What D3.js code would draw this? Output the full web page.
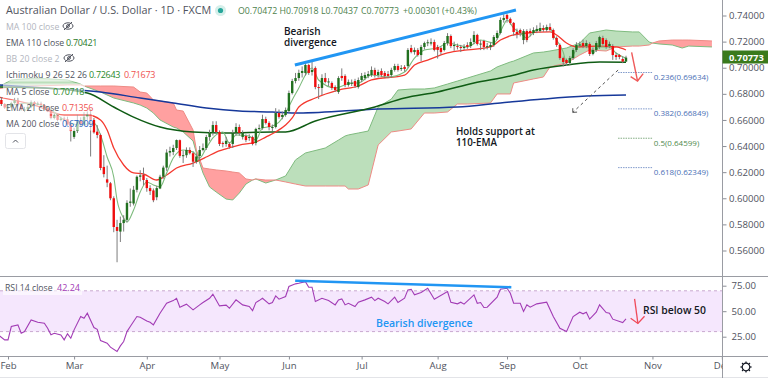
<!DOCTYPE html>
<html>
<head>
<meta charset="utf-8">
<script src="https://cdn.jsdelivr.net/npm/d3@7"></script>
<style>
	html, body { margin: 0; padding: 0; background: #fff; overflow: hidden; }
	svg { display: block; font-family: "Open Sans", sans-serif; }
	.axis text { fill: #50535e; font-size: 9.6px; font-family: "Open Sans", sans-serif; }
</style>
</head>
<body>
<div id="chart"></div>
<script>
// candles, first one is two sessions before the Feb tick
const firstDay = -2;
const candleOpen = [
	.6753,.6722,.6690,.6700,.6730,.6750,.6720,.6680,.6680,.6700,
	.6735,.6720,.6725,.6715,.6690,.6675,.6615,.6635,.6600,.6610,
	.6605,.6565,.6470,.6515,.6595,.6570,.6625,.6640,.6600,.6510,
	.6485,.6240,.6145,.6115,.6000,.5780,.5745,.5810,.5835,.5965,
	.5960,.6065,.6165,.6180,.6140,.6078,.6060,.6008,.6075,.6165,
	.6235,.6350,.6355,.6385,.6445,.6325,.6330,.6370,.6345,.6280,
	.6324,.6370,.6385,.6469,.6500,.6561,.6508,.6423,.6416,.6416,
	.6416,.6500,.6546,.6469,.6477,.6462,.6469,.6423,.6531,.6538,
	.6607,.6577,.6538,.6546,.6653,.6623,.6638,.6668,.6806,.6898,
	.6921,.6960,.6960,.7021,.6967,.6998,.6852,.6845,.6921,.6891,
	.6883,.6852,.6814,.6937,.6937,.6868,.6883,.6898,.6852,.6906,
	.6921,.6937,.6944,.6983,.6944,.6975,.6960,.6952,.6944,.6983,
	.7013,.6990,.7006,.7013,.7151,.7120,.7136,.7097,.7159,.7189,
	.7185,.7197,.7159,.7151,.7136,.7189,.7243,.7166,.7166,.7159,
	.7155,.7174,.7166,.7197,.7251,.7182,.7205,.7159,.7159,.7174,
	.7228,.7266,.7366,.7404,.7374,.7343,.7274,.7289,.7212,.7281,
	.7281,.7266,.7281,.7281,.7304,.7289,.7312,.7289,.7228,.7174,
	.7074,.7059,.7036,.7074,.7136,.7174,.7189,.7166,.7182,.7105,
	.7136,.7159,.7228,.7212,.7166,.7166,.7097,.7097,.7067,.70472
];
const candleHigh = [
	.6776,.6730,.6710,.6740,.6770,.6770,.6730,.6700,.6715,.6750,
	.6745,.6740,.6740,.6720,.6700,.6690,.6650,.6640,.6625,.6625,
	.6625,.6590,.6540,.6640,.6620,.6660,.6665,.6685,.6615,.6560,
	.6495,.6330,.6250,.6125,.6015,.5835,.5860,.5870,.5985,.6075,
	.6095,.6175,.6215,.6235,.6155,.6100,.6075,.6095,.6180,.6250,
	.6375,.6395,.6410,.6450,.6450,.6365,.6390,.6390,.6360,.6340,
	.6400,.6420,.6485,.6525,.6590,.6590,.6520,.6435,.6470,.6430,
	.6525,.6575,.6565,.6520,.6490,.6490,.6480,.6540,.6565,.6640,
	.6625,.6590,.6565,.6690,.6680,.6665,.6695,.6825,.6915,.6960,
	.6985,.7010,.7050,.7030,.7060,.7010,.6875,.6950,.6960,.6920,
	.6895,.6865,.6935,.6995,.6950,.6910,.6910,.6915,.6925,.6960,
	.6965,.6975,.7010,.7000,.6985,.6995,.6975,.6975,.7000,.7030,
	.7030,.7020,.7020,.7150,.7175,.7155,.7150,.7175,.7200,.7215,
	.7225,.7215,.7175,.7165,.7205,.7265,.7255,.7200,.7185,.7175,
	.7180,.7195,.7225,.7280,.7260,.7210,.7215,.7190,.7195,.7250,
	.7285,.7385,.7410,.7414,.7385,.7350,.7300,.7300,.7295,.7295,
	.7300,.7310,.7325,.7345,.7325,.7330,.7340,.7300,.7240,.7185,
	.7085,.7070,.7090,.7150,.7195,.7200,.7215,.7210,.7195,.7155,
	.7205,.7245,.7245,.7225,.7200,.7180,.7115,.7105,.7085,.70918
];
const candleLow = [
	.6707,.6685,.6680,.6690,.6720,.6705,.6670,.6660,.6670,.6690,
	.6705,.6710,.6700,.6685,.6660,.6605,.6605,.6590,.6590,.6595,
	.6555,.6435,.6455,.6500,.6555,.6560,.6600,.6320,.6495,.6460,
	.6215,.6160,.6085,.5985,.5740,.5510,.5665,.5745,.5815,.5935,
	.5945,.6045,.6130,.6100,.6050,.6025,.5970,.5985,.6070,.6150,
	.6210,.6320,.6330,.6370,.6310,.6270,.6310,.6335,.6240,.6265,
	.6290,.6360,.6370,.6440,.6480,.6495,.6400,.6390,.6395,.6380,
	.6385,.6480,.6480,.6450,.6430,.6440,.6405,.6405,.6520,.6525,
	.6565,.6520,.6515,.6535,.6610,.6605,.6625,.6655,.6795,.6880,
	.6900,.6925,.6940,.6945,.6940,.6835,.6760,.6790,.6880,.6860,
	.6830,.6815,.6800,.6900,.6850,.6855,.6860,.6845,.6840,.6890,
	.6905,.6920,.6930,.6925,.6925,.6930,.6920,.6920,.6925,.6970,
	.6970,.6975,.6970,.7000,.7110,.7100,.7085,.7050,.7140,.7165,
	.7170,.7125,.7070,.7100,.7125,.7170,.7150,.7130,.7140,.7120,
	.7135,.7145,.7150,.7180,.7170,.7135,.7135,.7140,.7135,.7160,
	.7215,.7255,.7345,.7345,.7330,.7245,.7225,.7240,.7180,.7195,
	.7240,.7250,.7265,.7270,.7275,.7275,.7280,.7215,.7160,.7060,
	.7010,.7015,.7020,.7060,.7120,.7155,.7150,.7150,.7090,.7095,
	.7120,.7145,.7170,.7145,.7150,.7060,.7060,.7065,.7035,.70437
];
const candleClose = [
	.6722,.6695,.6700,.6730,.6750,.6720,.6680,.6680,.6700,.6735,
	.6720,.6725,.6715,.6690,.6665,.6615,.6635,.6600,.6610,.6605,
	.6565,.6515,.6515,.6595,.6570,.6625,.6640,.6600,.6505,.6485,
	.6232,.6185,.6120,.6000,.5780,.5750,.5810,.5835,.5965,.5975,
	.6065,.6165,.6175,.6140,.6078,.6055,.5985,.6078,.6165,.6235,
	.6350,.6362,.6385,.6446,.6325,.6330,.6370,.6345,.6280,.6320,
	.6370,.6385,.6469,.6500,.6561,.6508,.6416,.6416,.6440,.6393,
	.6500,.6546,.6500,.6500,.6446,.6469,.6416,.6531,.6538,.6607,
	.6577,.6546,.6546,.6653,.6623,.6638,.6676,.6806,.6898,.6921,
	.6960,.6975,.7021,.6960,.6983,.6852,.6845,.6921,.6891,.6895,
	.6845,.6829,.6921,.6921,.6868,.6891,.6885,.6860,.6906,.6937,
	.6944,.6952,.6983,.6944,.6967,.6944,.6937,.6937,.6983,.7013,
	.6983,.6998,.6990,.7136,.7120,.7136,.7097,.7159,.7189,.7195,
	.7195,.7136,.7136,.7120,.7189,.7243,.7166,.7174,.7159,.7151,
	.7159,.7159,.7197,.7251,.7182,.7185,.7159,.7165,.7174,.7235,
	.7266,.7366,.7381,.7374,.7343,.7274,.7258,.7266,.7281,.7212,
	.7266,.7289,.7297,.7304,.7289,.7312,.7289,.7228,.7174,.7074,
	.7044,.7036,.7074,.7136,.7174,.7178,.7166,.7189,.7105,.7136,
	.7189,.7235,.7182,.7159,.7182,.7097,.7082,.7082,.7047,.70773
];

const ma5Day = [-1,1,7,13,17,22,26,28,30,32,33,35,36,38,40,42,44,46,48,50,53,56,58,60,62,65,67,69,73,75,77,80,82,84,86,88,90,92,94,99,104,106,110,115,120,123,126,130,133,136,139,143,147,150,151,153,155,157,160,164,165,168,169,171,173,176,177,179,182,184,187];
const ma5Value = [.6707,.6714,.6730,.6676,.6600,.6561,.6577,.6485,.6316,.6163,.5987,.5849,.5818,.5910,.6048,.6125,.6102,.6086,.6194,.6309,.6370,.6354,.6309,.6385,.6462,.6508,.6423,.6485,.6477,.6446,.6538,.6553,.6584,.6653,.6753,.6845,.6944,.6998,.6906,.6845,.6883,.6883,.6944,.6929,.6967,.7074,.7136,.7151,.7189,.7174,.7159,.7212,.7189,.7327,.7366,.7304,.7266,.7228,.7289,.7304,.7251,.7120,.7036,.7097,.7174,.7151,.7113,.7159,.7159,.7113,.70718];
const ema21Day = [-3,8,17,24,28,30,32,35,38,41,45,48,51,56,60,63,68,70,75,78,81,84,86,88,93,100,106,110,120,123,127,133,139,146,149,151,153,157,164,166,169,172,178,184,187];
const ema21Value = [.6776,.6714,.6638,.6638,.6600,.6523,.6385,.6255,.6194,.6186,.6140,.6178,.6232,.6270,.6316,.6354,.6393,.6408,.6431,.6469,.6508,.6561,.6615,.6699,.6768,.6829,.6860,.6906,.6944,.7021,.7059,.7113,.7136,.7159,.7212,.7235,.7251,.7266,.7274,.7251,.7189,.7159,.7166,.7159,.71356];
const ema110Day = [-3,11,24,32,38,46,56,66,80,84,93,111,120,130,141,152,159,169,179,187];
const ema110Value = [.6852,.6845,.6806,.6699,.6622,.6546,.6508,.6500,.6508,.6508,.6592,.6699,.6768,.6814,.6883,.6937,.6983,.7021,.7044,.70421];
const ma200Day = [-3,11,28,40,50,60,70,80,88,112,136,149,162,175,187];
const ma200Value = [.6868,.6845,.6814,.6768,.6730,.6691,.6668,.6661,.6653,.6684,.6699,.6730,.6760,.6783,.67909];

// ichimoku cloud, same days for both spans
const cloudDay = [-4,1,8,18,22,23,28,32,38,40,42,44,46,50,51,53,56,57,59,61,63,66,68,70,72,74,75,78,81,84,87,90,96,100,102,103,106,109,112,116,118,122,126,129,133,136,139,146,148,152,153,159,162,164,169,173,176,181,184,189,191,194,195,197,201,204,206,213];
const spanA = [.6837,.6906,.6921,.6906,.6875,.6860,.6814,.6768,.6730,.6714,.6691,.6653,.6600,.6546,.6538,.6508,.6439,.6347,.6194,.6086,.6048,.5994,.5987,.6040,.6109,.6140,.6148,.6117,.6140,.6171,.6294,.6347,.6385,.6446,.6477,.6485,.6500,.6515,.6699,.6760,.6829,.6837,.6837,.6845,.6875,.6898,.6921,.6975,.7006,.7044,.7051,.7113,.7120,.7128,.7151,.7189,.7266,.7289,.7281,.7274,.7274,.7197,.7189,.7182,.7174,.7151,.7166,.7159];
const spanB = [.6837,.6852,.6860,.6868,.6868,.6860,.6860,.6860,.6852,.6814,.6806,.6753,.6745,.6730,.6676,.6668,.6523,.6370,.6232,.6224,.6217,.6209,.6201,.6194,.6148,.6140,.6148,.6140,.6140,.6125,.6109,.6094,.6094,.6094,.6094,.6071,.6071,.6102,.6408,.6508,.6515,.6531,.6653,.6653,.6661,.6722,.6722,.6730,.6799,.6799,.6883,.6914,.6929,.7006,.7036,.7097,.7136,.7128,.7159,.7166,.7166,.7174,.7189,.7205,.7212,.7212,.7212,.7205];

// rsi pane
const rsiDay = [-3,-1,0,1,3,4,5,7,9,11,12,13,14,16,17,18,19,20,22,23,24,26,27,28,30,31,33,34,35,36,37,39,40,42,43,44,46,48,50,51,52,54,56,58,59,61,62,64,66,67,69,71,73,74,75,76,77,79,80,81,82,84,85,87,88,90,91,92,93,95,97,99,100,101,102,103,105,106,108,110,111,112,114,115,117,118,120,121,122,123,125,127,129,133,134,136,137,138,141,142,143,144,145,148,149,151,152,153,155,156,157,158,160,163,165,167,169,171,173,174,175,176,178,179,181,182,183,186,187];
const rsiValue = [26.8,21.9,21.9,35,36.6,28.4,30,41.5,39.2,38.2,33.3,26.8,28.4,26.8,21.9,27.8,23.5,31.7,44.8,43.1,48,34,32.3,21.2,18.6,14.7,10.5,16,20.3,30,35,44.8,44.1,40.5,39.2,36.6,48,57.8,60.4,62.7,53.9,56.9,51.3,56.2,58.5,62.7,66.7,55.2,55.9,52.9,61.1,56.2,54.6,50.6,58.5,60.4,62.7,57.2,58.5,65,61.8,64.4,74.2,76.8,77.4,79,73.5,73.5,59.5,62.7,60.4,56.2,61.1,62.1,56.2,57.8,54.6,58.8,61.1,63.7,60.4,62.7,59.5,57.2,63.7,58.5,62.7,70.9,71.5,66,68.3,72.5,61.8,69.3,58.8,57.2,58.8,56.9,66,57.8,58.5,53.6,53.9,63.7,71.5,72.5,67.6,57.8,57.8,49.7,56.2,53.9,57.2,58.8,44.8,33.3,30,44.8,49,47.4,49,42.2,49,56.2,48.7,48,42.2,38.9,42.5];
const rsiBands = [70, 30];

// axes
const priceTicks = [.74,.72,.70,.68,.66,.64,.62,.60,.58,.56];
const rsiTicks = [75,50,25];
const monthLabels = ["Feb","Mar","Apr","May","Jun","Jul","Aug","Sep","Oct","Nov","Dec"];
const monthDays = [0,20,42,64,85,107,130,151,173,195,216];

// fib levels
const fibRatio = ["0.236","0.382","0.5","0.618"];
const fibPrice = [.69634,.66849,.64599,.62349];
const fibColor = ["#4a6fb5","#4a6fb5","#4f8a4f","#4a6fb5"];

// drawn lines on the chart, [day, value] pairs
const priceTrend = [[86.8,.7021],[153.7,.7442]];
const rsiTrend = [[86.9,79.8],[152.3,73.5]];
const priceArrow = [[188.7,.7118],[190.5,.6898]];
const priceArrowHead = [[188.4,.6932],[190.5,.6898],[192.2,.6955]];
const rsiArrow = [[189.6,62],[190.6,38]];
const rsiArrowHead = [[188.4,43],[190.6,38],[192.6,45]];
const fibGuide = [[184.6,.6982],[170.9,.6658]];
const fibGuideHead = [[170.9,.6690],[170.9,.6658],[172.2,.6660]];

const width = 768, height = 378;
const axisX = 722.5;

const x = d3.scaleLinear().domain([0, 187]).range([8, 626]);
const y = d3.scaleLinear().domain([.74, .56]).range([15.5, 250.5]);
const yRsi = d3.scaleLinear().domain([75, 25]).range([285.7, 336.7]);

const svg = d3.select("#chart").append("svg")
	.attr("width", width)
	.attr("height", height);

const defs = svg.append("defs");
defs.append("clipPath").attr("id", "pricePane").append("rect")
	.attr("width", axisX).attr("height", 276);
defs.append("clipPath").attr("id", "rsiPane").append("rect")
	.attr("y", 277).attr("width", axisX).attr("height", 79);
defs.append("clipPath").attr("id", "timePane").append("rect")
	.attr("y", 356).attr("width", axisX).attr("height", 22);

const plot = svg.append("g").attr("clip-path", "url(#pricePane)");

// cloud
const cloud = cloudDay.map((d, i) => ({ day: d, a: spanA[i], b: spanB[i] }));
const upperEdge = d => y(Math.max(d.a, d.b));

plot.append("path").datum(cloud)
	.attr("fill", "#bcdfbb")
	.attr("d", d3.area().x(d => x(d.day)).y0(d => y(d.b)).y1(upperEdge));
plot.append("path").datum(cloud)
	.attr("fill", "#ffa0a0")
	.attr("d", d3.area().x(d => x(d.day)).y0(d => y(d.a)).y1(upperEdge));
plot.append("path").datum(cloud)
	.attr("fill", "none").attr("stroke", "#7fbb7f").attr("stroke-width", 1)
	.attr("d", d3.line().x(d => x(d.day)).y(d => y(d.a)));
plot.append("path").datum(cloud)
	.attr("fill", "none").attr("stroke", "#ee8b85").attr("stroke-width", 1)
	.attr("d", d3.line().x(d => x(d.day)).y(d => y(d.b)));

// moving averages
function drawLine(days, values, color, w) {
	plot.append("path")
		.datum(days.map((d, i) => [d, values[i]]))
		.attr("fill", "none")
		.attr("stroke", color)
		.attr("stroke-width", w)
		.attr("stroke-linejoin", "round")
		.attr("d", d3.line().x(d => x(d[0])).y(d => y(d[1])).curve(d3.curveMonotoneX));
}
drawLine(ma200Day, ma200Value, "#16389a", 1.5);
drawLine(ema110Day, ema110Value, "#0f5c14", 1.5);
drawLine(ema21Day, ema21Value, "#f4392f", 1.3);
drawLine(ma5Day, ma5Value, "#7dbb7d", 1.1);

// candles
const candles = candleOpen.map((o, i) => ({
	day: firstDay + i, o: o, h: candleHigh[i], l: candleLow[i], c: candleClose[i]
}));
const candle = plot.selectAll(".candle").data(candles).enter().append("g").attr("class", "candle");
candle.append("line")
	.attr("x1", d => x(d.day)).attr("x2", d => x(d.day))
	.attr("y1", d => y(d.h)).attr("y2", d => y(d.l))
	.attr("stroke", "#7c7c7c").attr("stroke-width", 1);
candle.append("rect")
	.attr("x", d => x(d.day) - 1.2)
	.attr("width", 2.4)
	.attr("y", d => y(Math.max(d.o, d.c)))
	.attr("height", d => Math.max(1, Math.abs(y(d.o) - y(d.c))))
	.attr("fill", d => d.c >= d.o ? "#21701f" : "#f00d0d");

// fib levels
fibPrice.forEach((p, i) => {
	plot.append("line")
		.attr("x1", x(184.6)).attr("x2", x(194.9))
		.attr("y1", y(p)).attr("y2", y(p))
		.attr("stroke", fibColor[i]).attr("stroke-opacity", .7)
		.attr("stroke-dasharray", "1.5 1");
	plot.append("text")
		.attr("x", x(195.4)).attr("y", y(p) + 7.5)
		.attr("fill", fibColor[i]).attr("font-size", "8px")
		.text(fibRatio[i] + "(" + d3.format(".5f")(p) + ")");
});

const pricePath = d3.line().x(d => x(d[0])).y(d => y(d[1]));
const rsiPath = d3.line().x(d => x(d[0])).y(d => yRsi(d[1]));

plot.append("path").attr("d", pricePath(fibGuide))
	.attr("fill", "none").attr("stroke", "#555").attr("stroke-dasharray", "3 3");
plot.append("path").attr("d", pricePath(fibGuideHead))
	.attr("fill", "none").attr("stroke", "#555");
plot.append("path").attr("d", pricePath(priceTrend))
	.attr("fill", "none").attr("stroke", "#2196f3").attr("stroke-width", 3);
plot.append("path").attr("d", pricePath(priceArrow))
	.attr("fill", "none").attr("stroke", "#ef5a5a").attr("stroke-width", 1.4);
plot.append("path").attr("d", pricePath(priceArrowHead))
	.attr("fill", "none").attr("stroke", "#ef5a5a").attr("stroke-width", 1.4);

// chart notes
function note(parent, lines, nx, ny, color, size) {
	lines.forEach((t, i) => {
		parent.append("text")
			.attr("x", nx).attr("y", ny + i * 11)
			.attr("fill", color).attr("font-size", size + "px").attr("font-weight", 600)
			.text(t);
	});
}
note(svg, ["Bearish", "divergence"], 284, 34.5, "#131722", 10);
note(svg, ["Holds support at", "110-EMA"], 456, 134.5, "#131722", 9.8);

// rsi pane
const rsi = svg.append("g").attr("clip-path", "url(#rsiPane)");
rsi.append("rect")
	.attr("x", 0).attr("width", axisX)
	.attr("y", yRsi(rsiBands[0]))
	.attr("height", yRsi(rsiBands[1]) - yRsi(rsiBands[0]))
	.attr("fill", "#f5e7fd");
rsiBands.forEach(b => {
	rsi.append("line")
		.attr("x1", 0).attr("x2", axisX)
		.attr("y1", yRsi(b)).attr("y2", yRsi(b))
		.attr("stroke", "#c8a8cf").attr("stroke-dasharray", "3 3");
});
rsi.append("path")
	.datum(rsiDay.map((d, i) => [d, rsiValue[i]]))
	.attr("fill", "none").attr("stroke", "#a23cb5").attr("stroke-width", 1.1)
	.attr("d", rsiPath);
rsi.append("path").attr("d", rsiPath(rsiTrend))
	.attr("fill", "none").attr("stroke", "#2196f3").attr("stroke-width", 2.6);
rsi.append("path").attr("d", rsiPath(rsiArrow))
	.attr("fill", "none").attr("stroke", "#ef4a5a").attr("stroke-width", 1.3);
rsi.append("path").attr("d", rsiPath(rsiArrowHead))
	.attr("fill", "none").attr("stroke", "#ef4a5a").attr("stroke-width", 1.3);
note(rsi, ["Bearish divergence"], 376, 327, "#2196f3", 10.5);
note(rsi, ["RSI below 50"], 643, 314, "#131722", 10.4);

// pane borders
[276.5, 356.5].forEach(b => {
	svg.append("line").attr("x1", 0).attr("x2", width).attr("y1", b).attr("y2", b)
		.attr("stroke", "#9a9ca3");
});
svg.append("line").attr("x1", 0).attr("x2", width).attr("y1", 377.5).attr("y2", 377.5)
	.attr("stroke", "#e3e4e8");

// axes
function styleAxis(g) {
	g.attr("class", "axis");
	g.select(".domain").remove();
	g.selectAll("line").attr("stroke", "#8a8d95");
}
svg.append("g")
	.attr("transform", "translate(" + axisX + ",0)")
	.call(d3.axisRight(y).tickValues(priceTicks).tickFormat(d3.format(".5f")).tickSize(4).tickPadding(2.5))
	.call(styleAxis);
svg.append("g")
	.attr("transform", "translate(" + axisX + ",0)")
	.call(d3.axisRight(yRsi).tickValues(rsiTicks).tickFormat(d3.format(".2f")).tickSize(4).tickPadding(5))
	.call(styleAxis);
svg.append("line").attr("x1", axisX).attr("x2", axisX).attr("y1", 0).attr("y2", height)
	.attr("stroke", "#9a9ca3");

svg.append("g").attr("clip-path", "url(#timePane)").append("g")
	.attr("transform", "translate(0,356.5)")
	.call(d3.axisBottom(x).tickValues(monthDays).tickFormat((d, i) => monthLabels[i]).tickSize(3).tickPadding(3))
	.call(styleAxis);

// last price tag
svg.append("rect").attr("x", axisX).attr("y", 50.5).attr("width", width - axisX).attr("height", 13)
	.attr("fill", "#3a7a1c");
svg.append("text").attr("x", 729).attr("y", 60.6).attr("fill", "#fff")
	.attr("font-size", "9.4px").attr("font-weight", 700).text(d3.format(".5f")(candleClose[candleClose.length - 1]));

// gear
const gear = svg.append("g").attr("transform", "translate(746,367)")
	.attr("fill", "none").attr("stroke", "#131722");
gear.append("circle").attr("r", 3.8).attr("stroke-width", 1.2);
d3.range(8).forEach(i => {
	gear.append("line").attr("y1", -3.8).attr("y2", -5.6).attr("stroke-width", 1.2)
		.attr("transform", "rotate(" + i * 45 + ")");
});

// legend
const legendGray = "#50535e", legendMuted = "#b2b5be";
const legend = [
	{ y: 26, label: "MA 100 close", color: legendMuted, hidden: 68 },
	{ y: 42, label: "EMA 110 close", color: legendGray, values: [[66, "0.70421", "#2b7a2b"]], w: 96 },
	{ y: 58, label: "BB 20 close 2", color: legendMuted, hidden: 69 },
	{ y: 74, label: "Ichimoku 9 26 52 26", color: legendGray, values: [[89, "0.72643", "#2b8a2b"], [124, "0.71673", "#ef5350"]], w: 154 },
	{ y: 91, label: "MA 5 close", color: legendGray, values: [[53, "0.70718", "#2b8a2b"]], w: 82 },
	{ y: 107, label: "EMA 21 close", color: legendGray, values: [[62, "0.71356", "#ef5350"]], w: 90 },
	{ y: 123, label: "MA 200 close", color: legendGray, values: [[62, "0.67909", "#1e5bc0"]], w: 90 }
];
legend.forEach(row => {
	if (row.w) {
		svg.append("rect").attr("x", 3).attr("y", row.y - 7.5).attr("width", row.w).attr("height", 15)
			.attr("fill", "#fff").attr("opacity", .6);
	}
	svg.append("text").attr("x", 6).attr("y", row.y + 3.5).attr("fill", row.color)
		.attr("font-size", "8.7px").text(row.label);
	(row.values || []).forEach(v => {
		svg.append("text").attr("x", v[0]).attr("y", row.y + 3.5).attr("fill", v[2])
			.attr("font-size", "9px").attr("letter-spacing", "-0.3px").text(v[1]);
	});
	if (row.hidden) {
		const eye = svg.append("g").attr("transform", "translate(" + row.hidden + "," + row.y + ")")
			.attr("fill", "none").attr("stroke", "#50535e").attr("stroke-width", 1);
		eye.append("ellipse").attr("rx", 5).attr("ry", 3.2);
		eye.append("circle").attr("r", 1.4);
		eye.append("line").attr("x1", -4).attr("y1", 4).attr("x2", 4).attr("y2", -4);
	}
});

// collapse button
svg.append("rect").attr("x", 5.5).attr("y", 133.5).attr("width", 20).attr("height", 15).attr("rx", 2)
	.attr("fill", "#fff").attr("stroke", "#e3e4e8");
svg.append("path").attr("d", "M13 142.5l2.5-2.5 2.5 2.5").attr("fill", "none").attr("stroke", "#50535e");

// title row
svg.append("text").attr("x", 6).attr("y", 14.2).attr("fill", "#50535e").attr("font-size", "10.8px")
	.text("Australian Dollar / U.S. Dollar · 1D · FXCM");
svg.append("circle").attr("cx", 220.5).attr("cy", 10.5).attr("r", 5.5).attr("fill", "#d5efea");
svg.append("circle").attr("cx", 220.5).attr("cy", 10.5).attr("r", 2.6).attr("fill", "#26a69a");

const quote = [
	[238, "O0.70472"], [279.5, "H0.70918"], [321, "L0.70437"], [361, "C0.70773"], [403, "+0.00301"], [442, "(+0.43%)"]
];
quote.forEach(q => {
	svg.append("text").attr("x", q[0]).attr("y", 14).attr("fill", "#4d7f4d").attr("font-size", "8.8px").text(q[1]);
});

// rsi legend
svg.append("rect").attr("x", 3).attr("y", 280).attr("width", 79).attr("height", 15).attr("fill", "#fff").attr("opacity", .6);
svg.append("text").attr("x", 5).attr("y", 291).attr("fill", legendGray).attr("font-size", "8.7px").text("RSI 14 close");
svg.append("text").attr("x", 57).attr("y", 291).attr("fill", "#a23cb5").attr("font-size", "9px").text("42.24");
</script>
</body>
</html>
